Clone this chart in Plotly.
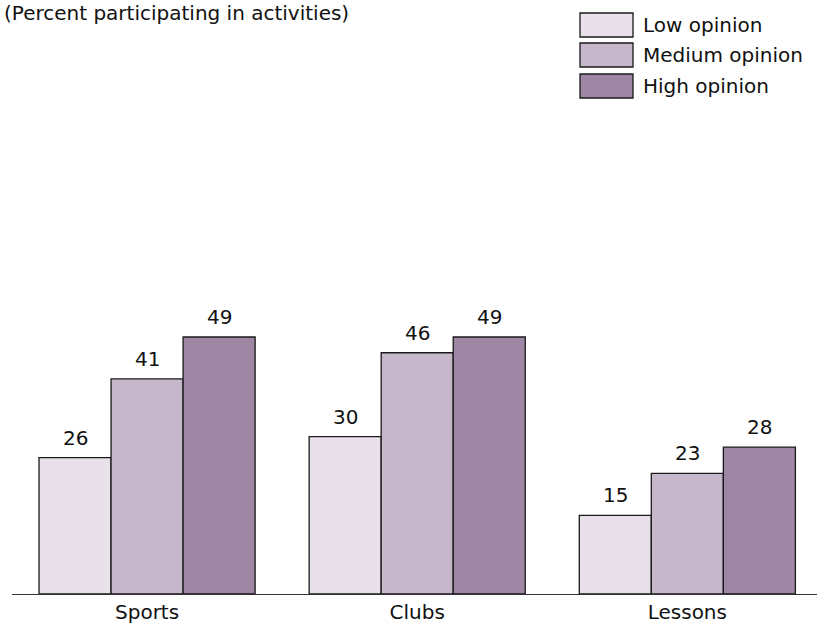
import plotly.graph_objects as go

categories = ["Sports", "Clubs", "Lessons"]
series_names = ["Low opinion", "Medium opinion", "High opinion"]
low_values = [26, 30, 15]
medium_values = [41, 46, 23]
high_values = [49, 49, 28]
colors = ["#E9E1EA", "#C6B7CB", "#9E86A5"]
title_text = "(Percent participating in activities)"

W, H = 817, 627
ML, MR, MT, MB = 12, 0, 0, 33
PW = W - ML - MR
PH = H - MT - MB
BARGAP = 0.2

def px_x(p):
    return (p - ML) / PW

def px_y(p):
    return (H - MB - p) / PH

FONT = "DejaVu Sans"

fig = go.Figure()
all_series = [low_values, medium_values, high_values]
n = len(all_series)
bw = (1 - BARGAP) / n
for j, (name, vals, col) in enumerate(zip(series_names, all_series, colors)):
    fig.add_trace(go.Bar(
        x=categories, y=vals, name=name,
        marker=dict(color=col, line=dict(color="#1a1a1a", width=1.3)),
        showlegend=False, hoverinfo="skip",
    ))
    for i, v in enumerate(vals):
        fig.add_annotation(x=i + (j - (n - 1) / 2) * bw, y=v, xref="x", yref="y",
                           text=str(v), showarrow=False, yanchor="bottom", yshift=6,
                           font=dict(family=FONT, size=20, color="#111111"))

fig.update_layout(
    width=W, height=H,
    margin=dict(l=ML, r=MR, t=MT, b=MB),
    paper_bgcolor="white", plot_bgcolor="white",
    barmode="group", bargap=BARGAP, bargroupgap=0,
    xaxis=dict(range=[-0.5, 2.48], showline=True, linecolor="#333333", linewidth=1.2,
               ticks="", showgrid=False, zeroline=False,
               tickfont=dict(family=FONT, size=20, color="#111111")),
    yaxis=dict(range=[0, 113.25], visible=False, showgrid=False, zeroline=False),
    font=dict(family=FONT),
)

fig.add_annotation(xref="paper", yref="paper", x=px_x(3), y=px_y(0),
                   xanchor="left", yanchor="top", showarrow=False, borderpad=0,
                   text=title_text, font=dict(family=FONT, size=20, color="#111111"))

rows = [25, 55, 86]
for name, col, cy in zip(series_names, colors, rows):
    fig.add_shape(type="rect", xref="paper", yref="paper",
                  x0=px_x(580), x1=px_x(633), y0=px_y(cy - 12), y1=px_y(cy + 12),
                  fillcolor=col, line=dict(color="#1a1a1a", width=1.3))
    fig.add_annotation(xref="paper", yref="paper", x=px_x(641), y=px_y(cy),
                       xanchor="left", yanchor="middle", showarrow=False,
                       text=name, font=dict(family=FONT, size=20, color="#111111"))

fig.write_html("out.html", config={"displayModeBar": False},
               post_script="document.body.style.margin='0';document.body.style.padding='0';")
